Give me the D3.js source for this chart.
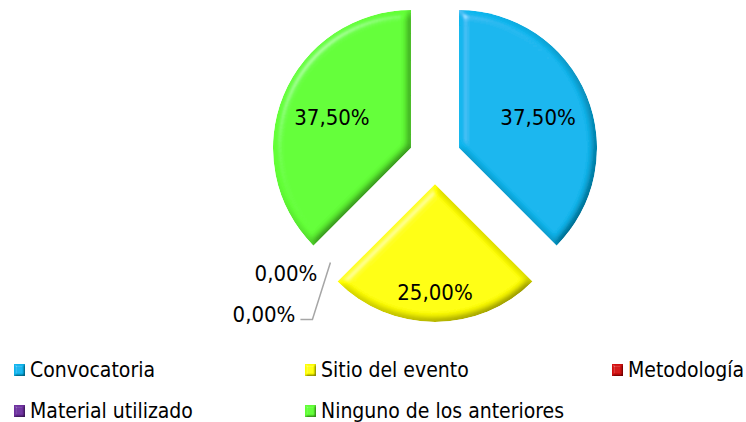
<!DOCTYPE html>
<html>
<head>
<meta charset="utf-8">
<script src="https://cdn.jsdelivr.net/npm/d3@7"></script>
<style>
  body { margin: 0; background: #fff; }
  .lbl { font-family: "Liberation Sans Narrow", "DejaVu Sans Condensed", sans-serif; font-size: 22px; fill: #000; }
  .leg { font-family: "DejaVu Sans Condensed", "DejaVu Sans", sans-serif; font-size: 21px; fill: #000; }
</style>
</head>
<body>
<div id="chart"></div>
<script>
// Data
const categories = ['Convocatoria', 'Sitio del evento', 'Metodología', 'Material utilizado', 'Ninguno de los anteriores'];
const values = [37.5, 25, 0, 0, 37.5];
const colors = ['#0BB6EE', '#FFFF00', '#D40E0E', '#7030A0', '#62FF36'];

const width = 746, height = 422;
const cx = 435, cy = 158, radius = 138, explode = 26;

const total = d3.sum(values);
const esFormat = d3.formatLocale({ decimal: ',', thousands: '.', grouping: [3], currency: ['', '€'] }).format('.2%');

const svg = d3.select('#chart')
    .append('svg')
    .attr('width', width)
    .attr('height', height);

// bevel filters
const defs = svg.append('defs');
function bevel(id, blur, scale) {
    const f = defs.append('filter').attr('id', id)
        .attr('x', '-5%').attr('y', '-5%').attr('width', '110%').attr('height', '110%');
    f.append('feGaussianBlur').attr('in', 'SourceAlpha').attr('stdDeviation', blur).attr('result', 'blur');
    f.append('feDiffuseLighting').attr('in', 'blur').attr('surfaceScale', scale)
        .attr('diffuseConstant', 1.16).attr('lighting-color', '#fff').attr('result', 'diff')
        .append('feDistantLight').attr('azimuth', 225).attr('elevation', 60);
    f.append('feSpecularLighting').attr('in', 'blur').attr('surfaceScale', scale)
        .attr('specularConstant', 0.4).attr('specularExponent', 40).attr('lighting-color', '#fff').attr('result', 'spec')
        .append('feDistantLight').attr('azimuth', 225).attr('elevation', 45);
    f.append('feComposite').attr('in', 'SourceGraphic').attr('in2', 'diff')
        .attr('operator', 'arithmetic').attr('k1', 1).attr('k2', 0).attr('k3', 0).attr('k4', 0).attr('result', 'shaded');
    f.append('feComposite').attr('in', 'spec').attr('in2', 'SourceAlpha').attr('operator', 'in').attr('result', 'specIn');
    f.append('feComposite').attr('in', 'shaded').attr('in2', 'specIn')
        .attr('operator', 'arithmetic').attr('k1', 0).attr('k2', 1).attr('k3', 0.6).attr('k4', 0).attr('result', 'lit');
    f.append('feComposite').attr('in', 'lit').attr('in2', 'SourceAlpha').attr('operator', 'in');
}
bevel('bevel', 4, 5);
bevel('bevelSmall', 1.2, 2);

const pie = d3.pie().sort(null).value(d => d);
const arcs = pie(values);
const arc = d3.arc().innerRadius(0).outerRadius(radius);

const g = svg.append('g').attr('transform', `translate(${cx},${cy})`);

function offset(d, dist) {
    const a = (d.startAngle + d.endAngle) / 2;
    return [Math.sin(a) * dist, -Math.cos(a) * dist];
}

// slices
g.selectAll('path.slice')
    .data(arcs.filter(d => d.value > 0))
    .enter()
    .append('path')
    .attr('class', 'slice')
    .attr('transform', d => `translate(${offset(d, explode)})`)
    .attr('d', arc)
    .attr('fill', d => colors[d.index])
    .attr('filter', 'url(#bevel)');

// labels for non-zero slices
function labelPos(d) {
    const span = d.endAngle - d.startAngle;
    return offset(d, explode + radius * (span > 2 ? 0.62 : 0.77));
}
g.selectAll('text.val')
    .data(arcs.filter(d => d.value > 0))
    .enter()
    .append('text')
    .attr('class', 'lbl')
    .attr('text-anchor', 'middle')
    .attr('dy', '0.42em')
    .attr('x', d => labelPos(d)[0])
    .attr('y', d => labelPos(d)[1])
    .text(d => esFormat(d.value / total));

// labels for zero slices
const zeros = arcs.filter(d => d.value === 0);
const anchor = offset(zeros[0], radius);
g.append('path')
    .attr('d', d3.line()([
        [anchor[0] - 7, anchor[1] + 7],
        [anchor[0] - 25, anchor[1] + 64],
        [anchor[0] - 37, anchor[1] + 64]
    ]))
    .attr('fill', 'none')
    .attr('stroke', '#A6A6A6')
    .attr('stroke-width', 1.5);

g.selectAll('text.zero')
    .data(zeros)
    .enter()
    .append('text')
    .attr('class', 'lbl')
    .attr('text-anchor', 'end')
    .attr('x', (d, i) => anchor[0] - (i === 0 ? 20 : 42))
    .attr('y', (d, i) => anchor[1] + (i === 0 ? 25 : 66))
    .text(d => esFormat(d.value / total));

// legend
const colX = [14, 305, 612];
const rowY = [364, 405];
const legend = svg.selectAll('g.legend')
    .data(categories)
    .enter()
    .append('g')
    .attr('class', 'legend')
    .attr('transform', (d, i) => `translate(${colX[i % 3]},${rowY[Math.floor(i / 3)]})`);

legend.append('rect')
    .attr('width', 11)
    .attr('height', 12)
    .attr('fill', (d, i) => colors[i])
    .attr('filter', 'url(#bevelSmall)');

legend.append('text')
    .attr('class', 'leg')
    .attr('x', 16)
    .attr('y', 13)
    .text(d => d);
</script>
</body>
</html>
